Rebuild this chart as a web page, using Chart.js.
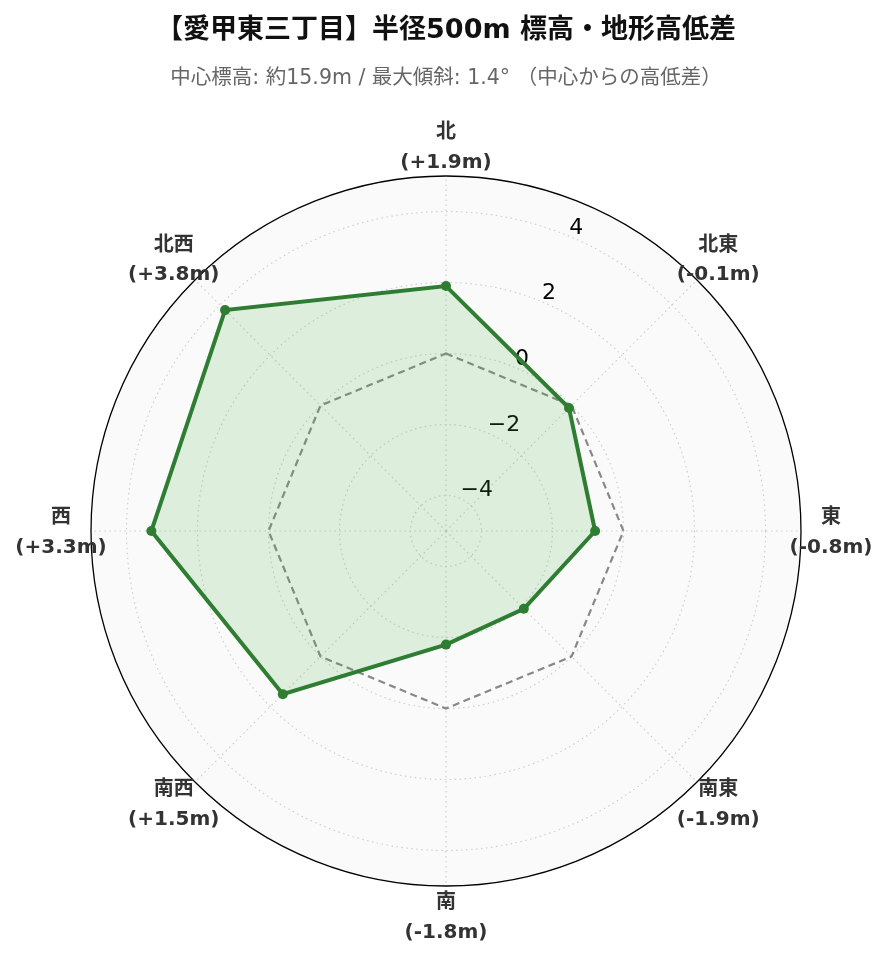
<!DOCTYPE html>
<html>
<head>
<meta charset="utf-8">
<script src="https://cdn.jsdelivr.net/npm/chart.js@4.4.1/dist/chart.umd.min.js"></script>
<style>
html,body{margin:0;padding:0;background:#fff;}
#wrap{width:889px;height:962px;}
</style>
</head>
<body>
<div id="wrap"><canvas id="c" width="889" height="962"></canvas></div>
<script>
const directions = ['北', '北東', '東', '南東', '南', '南西', '西', '北西'];
const elevationDiff = [1.9, -0.1, -0.8, -1.9, -1.8, 1.5, 3.3, 3.8];
const diffLabels = ['(+1.9m)', '(-0.1m)', '(-0.8m)', '(-1.9m)', '(-1.8m)', '(+1.5m)', '(+3.3m)', '(+3.8m)'];
const zeroLine = [0, 0, 0, 0, 0, 0, 0, 0];
const tickValues = [-4, -2, 0, 2, 4];
const tickLabels = ['−4', '−2', '0', '2', '4'];
const axisMin = -5;
const axisMax = 5;
const titleText = '【愛甲東三丁目】半径500m 標高・地形高低差';
const subtitleText = '中心標高: 約15.9m / 最大傾斜: 1.4° （中心からの高低差）';

const FONT = "'DejaVu Sans', 'Noto Sans CJK JP', sans-serif";

const polarDecor = {
  id: 'polarDecor',
  beforeDraw(chart) {
    const s = chart.scales.r;
    const ctx = chart.ctx;
    ctx.save();
    ctx.beginPath();
    ctx.arc(s.xCenter, s.yCenter, s.getDistanceFromCenterForValue(axisMax), 0, Math.PI * 2);
    ctx.fillStyle = '#fafafa';
    ctx.fill();
    ctx.restore();
  },
  beforeDatasetsDraw(chart) {
    const s = chart.scales.r;
    const ctx = chart.ctx;
    ctx.save();
    ctx.font = '22px ' + FONT;
    ctx.fillStyle = '#000';
    ctx.textAlign = 'left';
    ctx.textBaseline = 'alphabetic';
    tickValues.forEach((v, i) => {
      const p = s.getPointPosition(0, s.getDistanceFromCenterForValue(v), Math.PI / 8);
      ctx.fillText(tickLabels[i], p.x + 1, p.y - 2);
    });
    ctx.restore();
  },
  afterDraw(chart) {
    const s = chart.scales.r;
    const ctx = chart.ctx;
    ctx.save();
    ctx.beginPath();
    ctx.arc(s.xCenter, s.yCenter, s.getDistanceFromCenterForValue(axisMax), 0, Math.PI * 2);
    ctx.strokeStyle = '#000';
    ctx.lineWidth = 1.3;
    ctx.stroke();
    ctx.font = 'bold 20px ' + FONT;
    ctx.fillStyle = '#333';
    ctx.textAlign = 'center';
    ctx.textBaseline = 'middle';
    const dist = s.getDistanceFromCenterForValue(axisMax) + 30;
    directions.forEach((d, i) => {
      const p = s.getPointPosition(i, dist);
      ctx.fillText(d, p.x, p.y - 13);
      ctx.fillText(diffLabels[i], p.x, p.y + 16.5);
    });
    ctx.restore();
  }
};

new Chart(document.getElementById('c'), {
  type: 'radar',
  data: {
    labels: directions,
    datasets: [
      {
        label: '基準 (0m)',
        data: zeroLine,
        borderColor: '#888888',
        borderWidth: 2.2,
        borderDash: [7, 4.5],
        pointRadius: 0,
        pointHoverRadius: 0,
        fill: false,
        order: 2
      },
      {
        label: '高低差',
        data: elevationDiff,
        borderColor: '#2e7d32',
        backgroundColor: 'rgba(76,175,80,0.17)',
        borderWidth: 4,
        pointRadius: 5,
        pointBackgroundColor: '#2e7d32',
        pointBorderColor: '#2e7d32',
        pointBorderWidth: 0,
        fill: 'start',
        order: 1
      }
    ]
  },
  options: {
    responsive: false,
    animation: false,
    devicePixelRatio: 1,
    layout: { padding: { left: 91, right: 88, top: 0, bottom: 76 } },
    plugins: {
      legend: { display: false },
      tooltip: { enabled: false },
      title: {
        display: true,
        text: titleText,
        color: '#111',
        font: { family: FONT, size: 27, weight: 'bold', lineHeight: 1.2 },
        padding: { top: 15, bottom: 0 }
      },
      subtitle: {
        display: true,
        text: subtitleText,
        color: '#666',
        font: { family: FONT, size: 20.5, weight: 'normal', lineHeight: 1.2 },
        padding: { top: 19, bottom: 85 }
      }
    },
    scales: {
      r: {
        min: axisMin,
        max: axisMax,
        afterBuildTicks(scale) {
          scale.ticks = tickValues.map(v => ({ value: v }));
        },
        ticks: { display: false },
        pointLabels: { display: false },
        grid: {
          circular: true,
          color: '#cfcfcf',
          lineWidth: 1.2
        },
        border: { dash: [1.5, 3.5] },
        angleLines: {
          display: true,
          color: '#cfcfcf',
          lineWidth: 1.2,
          borderDash: [1.5, 3.5]
        }
      }
    }
  },
  plugins: [polarDecor]
});
</script>
</body>
</html>
